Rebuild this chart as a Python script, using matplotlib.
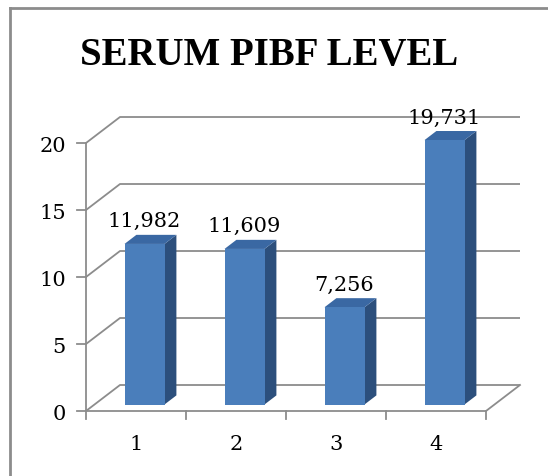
import numpy as np
import matplotlib
matplotlib.use("Agg")
import matplotlib.pyplot as plt
from matplotlib.patches import Polygon

categories = ["1", "2", "3", "4"]
values = [11.982, 11.609, 7.256, 19.731]
value_labels = ["11,982", "11,609", "7,256", "19,731"]
y_ticks = [0, 5, 10, 15, 20]
title = "SERUM PIBF LEVEL"

front_col = "#4a7ebb"
side_col = "#2c4f7c"
top_col = "#3a68a3"
grid_col = "#8c8c8c"
serif = ["DejaVu Serif"]
title_font = ["Liberation Serif", "DejaVu Serif"]

# depth of the 3d box (category units, value units)
back_dx, back_dy = 0.34, 1.94
bar_off = 0.25      # where the bar front sits inside the depth
bar_depth = 0.35
bar_w = 0.4

W, H = 548, 477
fig = plt.figure(figsize=(W / 100, H / 100), dpi=100)
ax = fig.add_axes([0, 0, 1, 1])
# pixel mapping: x=0.5 -> 86px, 100px per category; y=0 -> 412px, 13.4px per unit
ax.set_xlim(0.5 - 86 / 100, 0.5 + (W - 86) / 100)
ax.set_ylim((412 - H) / 13.4, 412 / 13.4)
ax.axis("off")

n = len(categories)
x0, x1 = 0.5, n + 0.5
lw = 1.3

# back wall gridlines + left wall diagonals
for t in y_ticks:
    ax.plot([x0, x0 + back_dx, x1 + back_dx], [t, t + back_dy, t + back_dy],
            color=grid_col, lw=lw, solid_capstyle="butt", zorder=1)
    ax.plot([x0 - 0.09, x0], [t, t], color=grid_col, lw=lw, zorder=1)
    ax.text(x0 - 0.2, t - 0.15, str(t), ha="right", va="center",
            fontsize=15, family=serif)

# floor
ax.plot([x0, x1, x1 + back_dx], [0, 0, back_dy], color=grid_col, lw=lw, zorder=1)
# y axis
ax.plot([x0, x0], [0, y_ticks[-1]], color=grid_col, lw=lw, zorder=1)
# category ticks
for i in range(n + 1):
    ax.plot([x0 + i, x0 + i], [0, -0.6], color=grid_col, lw=lw, zorder=1)

# bars
for i, v in enumerate(values):
    c = i + 1
    ox, oy = bar_off * back_dx, bar_off * back_dy
    dx, dy = bar_depth * back_dx, bar_depth * back_dy
    l, r = c - bar_w / 2 + ox, c + bar_w / 2 + ox
    b, t = oy, v + oy
    ax.add_patch(Polygon([(r, b), (r + dx, b + dy), (r + dx, t + dy), (r, t)],
                         closed=True, fc=side_col, ec="none", zorder=3))
    ax.add_patch(Polygon([(l, t), (r, t), (r + dx, t + dy), (l + dx, t + dy)],
                         closed=True, fc=top_col, ec="none", zorder=3))
    ax.add_patch(Polygon([(l, b), (r, b), (r, t), (l, t)],
                         closed=True, fc=front_col, ec="none", zorder=4))
    ax.text(c + ox, t + dy + 1.05, value_labels[i], ha="center", va="center",
            fontsize=15, family=serif, zorder=5)
    ax.text(c, -2.45, categories[i], ha="center", va="center",
            fontsize=15, family=serif)

fig.text(269 / W, 1 - 55 / H, title, ha="center", va="center",
         fontsize=28, fontweight="bold", family=title_font)

# chart frame
fig.add_artist(plt.Line2D([10 / W, 10 / W], [0, 1 - 9 / H], color=grid_col, lw=2))
fig.add_artist(plt.Line2D([10 / W, 1], [1 - 9 / H, 1 - 9 / H], color=grid_col, lw=2))

fig.savefig("out.png", dpi=100)
